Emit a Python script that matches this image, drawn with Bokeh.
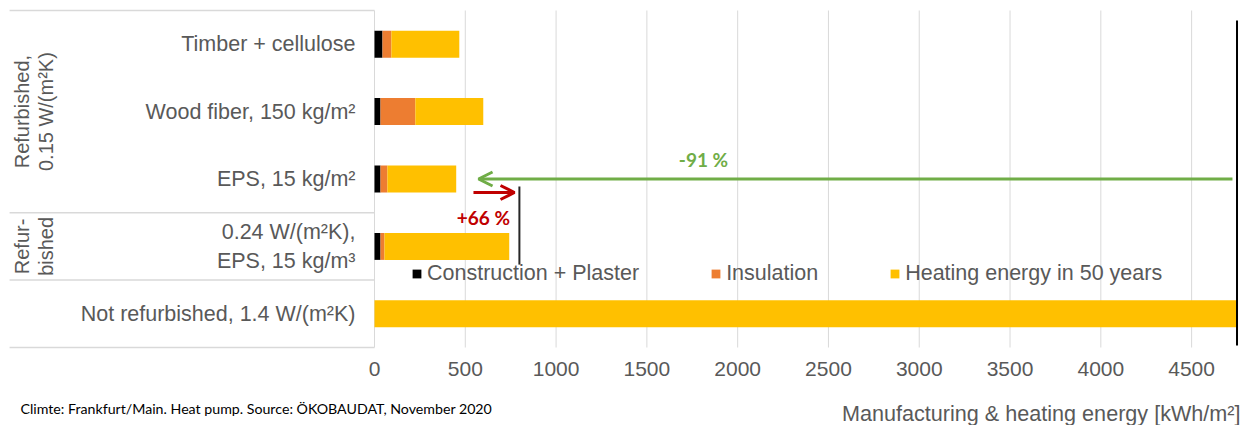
import numpy as np
from bokeh.plotting import figure
from bokeh.models import ColumnDataSource, Range1d, Legend, LegendItem, Arrow, OpenHead
from bokeh.core.properties import value
from bokeh.embed import file_html
from bokeh.resources import INLINE

# ---------------- data ----------------
categories = ["Not refurbished, 1.4 W/(m²K)", "0.24 W/(m²K),\nEPS, 15 kg/m³",
              "EPS, 15 kg/m²", "Wood fiber, 150 kg/m²", "Timber + cellulose"]
positions = [0, 1, 2, 3, 4]
construction = [0, 33, 33, 33, 44]
insulation = [0, 22, 38, 192, 49]
heating = [4750, 687, 379, 374, 374]
series_keys = ["construction", "insulation", "heating"]
series_names = ["Construction + Plaster", "Insulation", "Heating energy in 50 years"]
series_colors = ["#000000", "#ED7D31", "#FFC000"]
x_ticks = [0, 500, 1000, 1500, 2000, 2500, 3000, 3500, 4000, 4500]
x_tick_labels = [str(t) for t in x_ticks]

group_labels = ["Refurbished,\n0.15 W/(m²K)", "Refur-\nbished"]
group_positions = [3, 1]
group_separators = [-0.5, 0.5, 1.5, 4.5]

# annotations: change arrows and reference lines
green_arrow = dict(x_start=4725, x_end=573, y=2.0)
red_arrow = dict(x_start=545, x_end=771, y=1.8)
pct_text = ["-91 %", "+66 %"]
pct_x = [1812, 600]
pct_y = [2.29, 1.43]
pct_colors = ["#70AD47", "#C00000"]
ref_x = [798, 4750]
ref_y0 = [1.89, 4.35]
ref_y1 = [0.73, -0.47]

x_title = "Manufacturing & heating energy [kWh/m²]"
footer = "Climte: Frankfurt/Main. Heat pump. Source: ÖKOBAUDAT, November 2020"

# ---------------- layout ----------------
W, H = 1243, 425
PX_PER_UNIT = 0.18158
ZERO_PX = 374
ROW_PX = 67.4
X_START = -ZERO_PX / PX_PER_UNIT
X_END = (W - ZERO_PX) / PX_PER_UNIT
Y_TOP = 4.5 + 10 / ROW_PX
Y_BOTTOM = -0.5 - (H - 347) / ROW_PX
GREY = "#595959"
GRID = "#d9d9d9"
FONT = "Liberation Sans"

p = figure(width=W, height=H, x_range=Range1d(X_START, X_END),
           y_range=Range1d(Y_BOTTOM, Y_TOP), output_backend="svg", toolbar_location=None,
           x_axis_location=None, y_axis_location=None, min_border=0)
p.outline_line_color = None
p.grid.visible = False

source = ColumnDataSource(dict(pos=positions, cat=categories, construction=construction,
                               insulation=insulation, heating=heating))

# vertical grid lines at the ticks (plot area only)
p.segment(x0=x_ticks, y0=[-0.5] * len(x_ticks), x1=x_ticks, y1=[4.5] * len(x_ticks),
          line_color=GRID, line_width=1)
# separators in the category area
p.segment(x0=[X_START + 50] * len(group_separators), y0=group_separators,
          x1=[0] * len(group_separators), y1=group_separators,
          line_color=GRID, line_width=1.5)

renderers = p.hbar_stack(series_keys, y="pos", height=0.4, color=series_colors,
                         line_color=None, source=source)

# tick labels
p.text(x=x_ticks, y=[-0.5] * len(x_ticks), text=x_tick_labels, y_offset=21,
       text_align="center", text_baseline="middle", text_font=value(FONT),
       text_font_size=value("21px"), text_color=GREY)

# category labels
p.text(x=0, y="pos", text="cat", source=source, x_offset=-19, text_align="right",
       text_baseline="middle", text_font=value(FONT), text_font_size=value("21.5px"),
       text_color=GREY, text_line_height=1.2)

# group labels (rotated)
p.text(x=[X_START, X_START], y=group_positions, text=group_labels, angle=np.pi / 2,
       x_offset=33.5, text_align="center", text_baseline="middle", text_font=value(FONT),
       text_font_size=value("20px"), text_color=GREY, text_line_height=1.05)

# reference lines
p.segment(x0=ref_x, y0=ref_y0, x1=ref_x, y1=ref_y1, line_color=["#262626", "#000000"],
          line_width=2)

# arrows
p.add_layout(Arrow(end=OpenHead(size=14, line_color="#70AD47", line_width=3),
                   x_start=green_arrow["x_start"], y_start=green_arrow["y"],
                   x_end=green_arrow["x_end"], y_end=green_arrow["y"],
                   line_color="#70AD47", line_width=3))
p.add_layout(Arrow(end=OpenHead(size=14, line_color="#C00000", line_width=3),
                   x_start=red_arrow["x_start"], y_start=red_arrow["y"],
                   x_end=red_arrow["x_end"], y_end=red_arrow["y"],
                   line_color="#C00000", line_width=3))

p.text(x=pct_x, y=pct_y, text=pct_text, text_color=pct_colors, text_align="center",
       text_baseline="middle", text_font=value("Lato"), text_font_size=value("19px"),
       text_font_style="bold")

# axis title and footer
p.text(x=[X_END], y=[-0.5], text=[x_title], x_offset=-3, y_offset=66, text_align="right",
       text_baseline="middle", text_font=value(FONT), text_font_size=value("21.6px"),
       text_color=GREY)
p.text(x=[X_START], y=[-0.5], text=[footer], x_offset=20, y_offset=61, text_align="left",
       text_baseline="middle", text_font=value("Lato"), text_font_size=value("14.2px"),
       text_color="#000000")

legend = Legend(items=[LegendItem(label=n, renderers=[r]) for n, r in zip(series_names, renderers)],
                location=(411, 139), orientation="horizontal", glyph_width=11, glyph_height=11,
                label_standoff=5, spacing=71, padding=0, margin=0,
                background_fill_alpha=0, border_line_alpha=0,
                label_text_font=FONT, label_text_font_size="21.5px", label_text_color=GREY)
p.add_layout(legend)

open("out.html", "w").write(file_html(p, INLINE))
